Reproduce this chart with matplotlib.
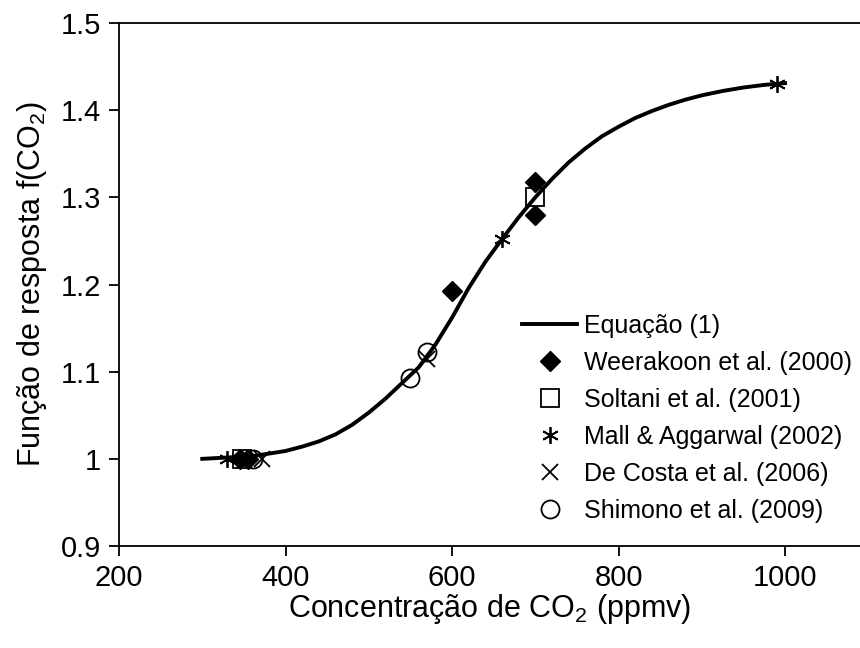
import matplotlib.pyplot as plt

plt.rcParams['font.family'] = ['Liberation Sans', 'DejaVu Sans']

# Curva da equação (1)
eq_x = [300, 320, 340, 360, 380, 400, 420, 440, 460, 480, 500, 520, 540, 560,
        580, 600, 620, 640, 660, 680, 700, 720, 740, 760, 780, 800, 820, 840,
        860, 880, 900, 925, 950, 975, 1000]
eq_y = [1.000, 1.001, 1.002, 1.003, 1.006, 1.009, 1.014, 1.020, 1.028, 1.039,
        1.053, 1.069, 1.087, 1.105, 1.131, 1.162, 1.196, 1.226, 1.252, 1.277,
        1.300, 1.321, 1.340, 1.356, 1.370, 1.381, 1.391, 1.399, 1.406, 1.412,
        1.417, 1.422, 1.426, 1.429, 1.431]

# Dados observados
weer_x = [345, 355, 600, 700, 700]
weer_y = [1.0, 1.0, 1.192, 1.318, 1.280]

solt_x = [348, 700]
solt_y = [1.0, 1.300]

mall_x = [330, 660, 990]
mall_y = [1.0, 1.252, 1.430]

costa_x = [372, 570]
costa_y = [1.0, 1.115]

shim_x = [361, 550, 570]
shim_y = [1.0, 1.093, 1.123]

x_ticks = [200, 400, 600, 800, 1000]
y_ticks = [0.9, 1.0, 1.1, 1.2, 1.3, 1.4, 1.5]

fig = plt.figure(figsize=(8.6, 6.48), dpi=100)
ax = fig.add_axes([119 / 860, 1 - 546 / 648, 741 / 860, 523 / 648])

ax.plot(eq_x, eq_y, 'k-', lw=2.8, label='Equação (1)', zorder=2)
ax.plot(weer_x, weer_y, 'kD', ms=10, ls='none', label='Weerakoon et al. (2000)', zorder=3)
ax.plot(solt_x, solt_y, 's', ms=13, mfc='none', mec='k', mew=1.3, ls='none',
        label='Soltani et al. (2001)', zorder=3)
ax.plot(mall_x, mall_y, marker=(6, 2, 0), ms=12, color='k', mew=1.3, ls='none',
        label='Mall & Aggarwal (2002)', zorder=3)
ax.plot(costa_x, costa_y, 'x', ms=12, color='k', mew=1.3, ls='none',
        label='De Costa et al. (2006)', zorder=3)
ax.plot(shim_x, shim_y, 'o', ms=13, mfc='none', mec='k', mew=1.3, ls='none',
        label='Shimono et al. (2009)', zorder=3)

ax.set_xlim(200, 1090)
ax.set_ylim(0.9, 1.5)
ax.set_xticks(x_ticks)
ax.set_yticks(y_ticks)
ax.set_yticklabels(['%g' % v for v in y_ticks])

for side in ['left', 'bottom', 'top']:
    ax.spines[side].set_linewidth(1.3)
ax.spines['right'].set_visible(False)
ax.tick_params(direction='out', length=7, width=1.3, labelsize=21, pad=6)

ax.set_xlabel(r'Concentração de CO$_\mathregular{2}$ (ppmv)', fontsize=22, labelpad=0)
ax.set_ylabel(r'Função de resposta f(CO$_\mathregular{2}$)', fontsize=22, labelpad=8)

ax.legend(loc='upper left', bbox_to_anchor=(522 / 860, 1 - 314 / 648),
          bbox_transform=fig.transFigure, frameon=False, fontsize=18,
          handlelength=2.2, handletextpad=0.3, labelspacing=0.52,
          borderpad=0, borderaxespad=0)

fig.savefig('out.png', dpi=100)
